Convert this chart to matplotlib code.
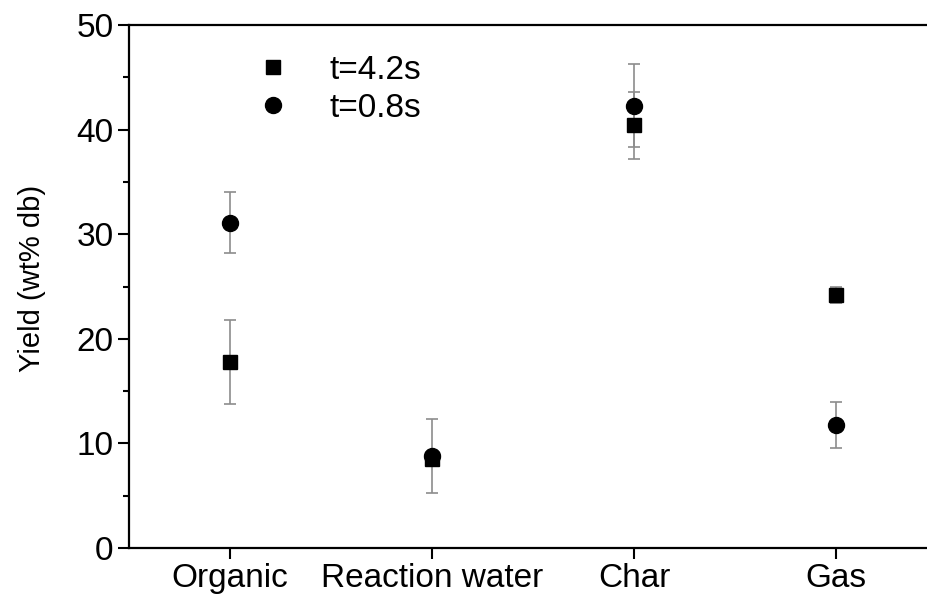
import matplotlib.pyplot as plt
from matplotlib.lines import Line2D
from matplotlib.ticker import MultipleLocator

plt.rcParams['font.family'] = ['Liberation Sans', 'DejaVu Sans']

categories = ['Organic', 'Reaction water', 'Char', 'Gas']
yield_42 = [17.8, 8.5, 40.4, 24.2]
err_42 = [4.0, 0.5, 3.2, 0.8]
yield_08 = [31.1, 8.8, 42.3, 11.8]
err_08 = [2.9, 3.5, 3.95, 2.2]

x = list(range(1, len(categories) + 1))

fig = plt.figure(figsize=(9.28, 5.97), dpi=100)
ax = fig.add_axes([0.139, 0.082, 0.871, 0.876])

ax.errorbar(x, yield_42, yerr=err_42, fmt='s', color='black', ms=10,
            ecolor='#8c8c8c', elinewidth=1.2, capsize=4.3, capthick=1.2,
            zorder=3)
ax.errorbar(x, yield_08, yerr=err_08, fmt='o', color='black', ms=11.5,
            ecolor='#8c8c8c', elinewidth=1.2, capsize=4.3, capthick=1.2,
            zorder=3)

ax.set_xlim(0.5, 4.5)
ax.set_ylim(0, 50)
ax.set_xticks(x)
ax.set_xticklabels(categories, fontsize=24)
ax.yaxis.set_major_locator(MultipleLocator(10))
ax.yaxis.set_minor_locator(MultipleLocator(5))
ax.tick_params(axis='both', which='major', direction='out', length=8, width=1.5)
ax.tick_params(axis='y', labelsize=24, pad=3)
ax.tick_params(axis='x', pad=3)
ax.tick_params(axis='y', which='minor', direction='out', length=4.5, width=1.5)
for s in ax.spines.values():
    s.set_linewidth(1.6)

ax.set_ylabel('Yield (wt% db)', fontsize=21)
ax.yaxis.set_label_coords(-0.103, 0.516)

handles = [Line2D([], [], ls='none', marker='s', color='black', ms=9.5),
           Line2D([], [], ls='none', marker='o', color='black', ms=11.5)]
ax.legend(handles, ['t=4.2s', 't=0.8s'], loc='upper left',
          bbox_to_anchor=(0.12, 1.0), frameon=False, fontsize=24,
          handlelength=1.0, handletextpad=1.2, labelspacing=0.2)

fig.savefig('out.png', dpi=100)
